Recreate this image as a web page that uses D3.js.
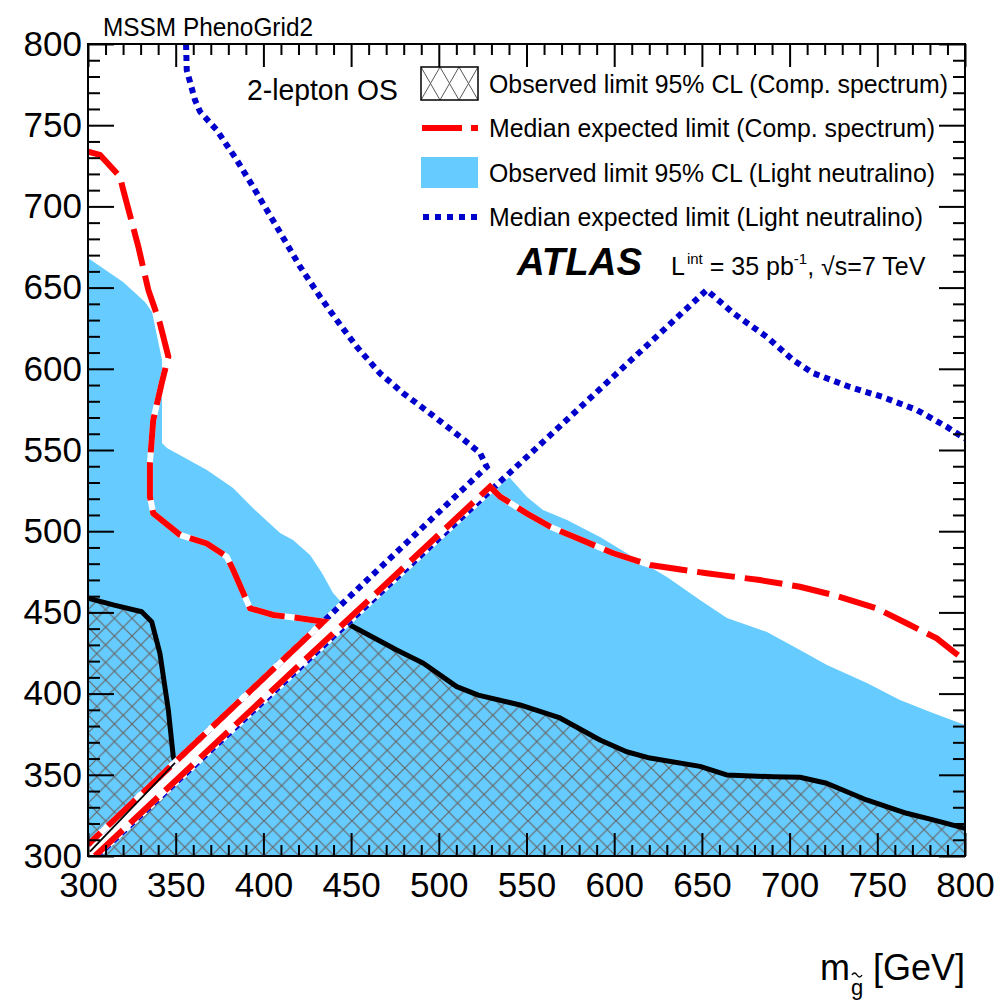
<!DOCTYPE html>
<html>
<head>
<meta charset="utf-8">
<script src="https://cdn.jsdelivr.net/npm/d3@7"></script>
<style>
  body { margin: 0; background: #fff; }
  svg { display: block; }
  text { font-family: "Liberation Sans", Arial, Helvetica, sans-serif; fill: #000; }
</style>
</head>
<body>
<script>
// ---- axis ranges and tick labels (GeV) ----
const xDomain = [300, 800];
const yDomain = [300, 800];
const xMajorTicks = [300, 350, 400, 450, 500, 550, 600, 650, 700, 750, 800];
const yMajorTicks = [300, 350, 400, 450, 500, 550, 600, 650, 700, 750, 800];

// ---- kinematic diagonal edges (m_gluino, m) ----
const upperDiagonal = [[300, 307], [444.8, 455.1]];
const lowerDiagonal = [[304, 300], [536.8, 534.6]];

// ---- observed 95% CL, light neutralino (filled) ----
const lnObservedLeft = [
  [300, 668.2], [320, 653.4], [332.5, 641.1], [336.5, 635], [342.2, 605.4],
  [342.2, 554.3], [345, 551.2], [367.8, 537.7], [382.7, 526.6], [395.2, 513],
  [409.5, 498.9], [416.9, 494.6], [426.6, 485.3], [433.4, 474.3], [439.7, 462],
  [444.8, 455.8]
];
const lnObservedRight = [
  [536.8, 534.6], [540.6, 532.8], [550.3, 521.1], [559.4, 513.1], [573.1, 506.9],
  [591.9, 496.4], [610.7, 484.1], [630.1, 471.8], [648.9, 457.6], [664.3, 446.6],
  [687.1, 437.9], [705.9, 426.8], [721.3, 417.6], [744.1, 406.5], [762.9, 396.1],
  [781.7, 388.1], [800, 380.7]
];

// ---- observed 95% CL, compressed spectrum (hatched, black line) ----
const compObservedLeft = [
  [300, 458.7], [314.4, 454.6], [330.6, 450.4], [336.3, 444.3], [341, 424.8],
  [345.8, 389.9], [348.6, 361.2], [349.6, 357.7], [300, 307]
];
const compObservedDiag = [[349.6, 357.4], [301.1, 302.7]];
const compObservedRight = [
  [447, 444.1], [449.4, 442.2], [476, 426.8], [491.2, 418.7], [510.2, 404.3],
  [522.5, 399.1], [546.3, 393], [569.1, 385], [591.9, 371.4], [607.1, 364.2],
  [620.4, 360.3], [648.9, 355.2], [664.1, 349.9], [690.7, 348.8], [705.9, 348.5],
  [721.1, 344.8], [743.9, 334.5], [766.7, 326.3], [781.9, 322.2], [800, 317.1]
];

// ---- median expected, compressed spectrum (red dashed) ----
const compExpectedA = [
  [300, 733.7], [306.8, 731.7], [318.2, 718.3], [320.1, 710.1], [328.7, 675.2],
  [334.4, 648.5], [341, 628], [345.8, 607.5], [342, 591.1], [337.2, 568.5],
  [335.3, 541.8], [335.3, 521.3], [337.2, 511], [352.5, 497.7], [367.7, 492.5],
  [379.1, 484.3], [382.8, 476.1], [392.4, 452.5], [405.7, 448.4], [420.9, 446.4],
  [434.2, 444.3], [300, 307]
];
const compExpectedB = [
  [304, 300], [529.2, 527.4], [534.9, 521.3], [550.1, 511], [563.4, 502.8],
  [576.7, 496.7], [599.5, 486.4], [620.5, 479.2], [652.7, 474.1], [683.1, 469.9],
  [705.9, 465.8], [724.9, 460.7], [749.6, 452.5], [766.7, 443.3], [783.9, 434],
  [793.4, 425.8], [800, 420.7]
];

// ---- median expected, light neutralino (blue dotted) ----
const lnExpectedA = [
  [355.9, 800], [356.3, 783.9], [361, 765.5], [363.9, 758.3], [373.4, 747],
  [384.8, 728.6], [394.1, 712.1], [407.6, 687.5], [420.9, 662.9], [432.3, 644.4],
  [441.8, 630], [453.2, 613.6], [466.5, 597.2], [479.8, 584.9], [495, 572.6],
  [512.1, 558.2], [523.5, 548.2], [527.3, 539.7], [300, 307]
];
const lnExpectedB = [
  [305, 300], [652.7, 648.5], [667.7, 634.4], [687.1, 619.6], [702, 605.4],
  [713.3, 597.4], [734.4, 588.8], [753.2, 582.6], [772.6, 574.6], [789.7, 564.2],
  [800, 557]
];

// ---- legend entries ----
const legendLabels = [
  "Observed limit 95% CL (Comp. spectrum)",
  "Median expected limit (Comp. spectrum)",
  "Observed limit 95% CL (Light neutralino)",
  "Median expected limit (Light neutralino)"
];

const W = 1006, H = 1001;
const frame = { left: 88, right: 965, top: 44, bottom: 856 };
const lightBlue = "#66ccff", red = "#ff0000", darkBlue = "#0000cc";

const x = d3.scaleLinear().domain(xDomain).range([frame.left, frame.right]);
const y = d3.scaleLinear().domain(yDomain).range([frame.bottom, frame.top]);

const svg = d3.select("body").append("svg").attr("width", W).attr("height", H);
const defs = svg.append("defs");

defs.append("clipPath").attr("id", "plotClip")
  .append("rect")
  .attr("x", frame.left).attr("y", frame.top)
  .attr("width", frame.right - frame.left).attr("height", frame.bottom - frame.top);

// cross-hatch used in the plot area
const hatch = defs.append("pattern").attr("id", "hatch")
  .attr("patternUnits", "userSpaceOnUse")
  .attr("x", frame.left).attr("y", frame.bottom)
  .attr("width", 17.6).attr("height", 17.6);
hatch.append("path").attr("d", "M0,0L17.6,17.6M17.6,0L0,17.6M-1,16.6L1,18.6M16.6,-1L18.6,1")
  .attr("stroke", "#666").attr("stroke-width", 1.2).attr("fill", "none");

// cross-hatch used in the legend box
const hatchLeg = defs.append("pattern").attr("id", "hatchLeg")
  .attr("patternUnits", "userSpaceOnUse")
  .attr("x", 421).attr("y", 67)
  .attr("width", 19).attr("height", 33);
hatchLeg.append("path").attr("d", "M0,0L19,33M19,0L0,33")
  .attr("stroke", "#555").attr("stroke-width", 1).attr("fill", "none");

const line = d3.line().x(d => x(d[0])).y(d => y(d[1]));
const plot = svg.append("g").attr("clip-path", "url(#plotClip)");

// filled light-neutralino observed region, split by the diagonal
const blueLeftPoly = [upperDiagonal[0], ...lnObservedLeft];
const blueRightPoly = [lowerDiagonal[0], ...lnObservedRight, [xDomain[1], yDomain[0]]];
[blueLeftPoly, blueRightPoly].forEach(p => {
  plot.append("path").attr("d", line(p) + "Z").attr("fill", lightBlue).attr("stroke", "none");
});

// hatched compressed-spectrum observed region
const hatchLeftPoly = compObservedLeft;
const hatchRightPoly = [lowerDiagonal[0], ...compObservedRight, [xDomain[1], yDomain[0]]];
[hatchLeftPoly, hatchRightPoly].forEach(p => {
  plot.append("path").attr("d", line(p) + "Z").attr("fill", "url(#hatch)").attr("stroke", "none");
});

// observed contour lines (black)
plot.append("path").attr("d", line(compObservedLeft.slice(0, 8)))
  .attr("fill", "none").attr("stroke", "#000").attr("stroke-width", 5).attr("stroke-linejoin", "round");
plot.append("path").attr("d", line(compObservedRight))
  .attr("fill", "none").attr("stroke", "#000").attr("stroke-width", 5).attr("stroke-linejoin", "round");

// expected contours: white backing, then the styled line
function styledLine(data, color, dash) {
  plot.append("path").attr("d", line(data))
    .attr("fill", "none").attr("stroke", "#fff").attr("stroke-width", 6);
  plot.append("path").attr("d", line(data))
    .attr("fill", "none").attr("stroke", color).attr("stroke-width", 6)
    .attr("stroke-dasharray", dash).attr("stroke-linejoin", "miter");
}
styledLine(lnExpectedA, darkBlue, "6,5");
styledLine(lnExpectedB, darkBlue, "6,5");
styledLine(compExpectedA, red, "38,10");
styledLine(compExpectedB, red, "38,10");

// thin observed segment running along the diagonal
plot.append("path").attr("d", line(compObservedDiag))
  .attr("fill", "none").attr("stroke", "#000").attr("stroke-width", 1.8);

// ---- axes: ticks on all four sides pointing inwards ----
const minorX = d3.range(xDomain[0], xDomain[1] + 1, 10).filter(v => v % 50 !== 0);
const minorY = d3.range(yDomain[0], yDomain[1] + 1, 10).filter(v => v % 50 !== 0);

function styleAxis(g) {
  g.select(".domain").remove();
  g.selectAll(".tick line").attr("stroke", "#000").attr("stroke-width", 2);
}

svg.append("g").attr("transform", `translate(0,${frame.bottom})`)
  .call(d3.axisBottom(x).tickValues(xMajorTicks).tickSizeInner(-23).tickSizeOuter(0)
    .tickPadding(16).tickFormat(d3.format("d")))
  .call(styleAxis)
  .call(g => g.selectAll(".tick text").attr("font-size", 35).attr("fill", "#000")
    .attr("font-family", "Liberation Sans, Arial, sans-serif"));
svg.append("g").attr("transform", `translate(0,${frame.bottom})`)
  .call(d3.axisBottom(x).tickValues(minorX).tickSizeInner(-11).tickSizeOuter(0).tickFormat(""))
  .call(styleAxis);
svg.append("g").attr("transform", `translate(0,${frame.top})`)
  .call(d3.axisTop(x).tickValues(xMajorTicks).tickSizeInner(-23).tickSizeOuter(0).tickFormat(""))
  .call(styleAxis);
svg.append("g").attr("transform", `translate(0,${frame.top})`)
  .call(d3.axisTop(x).tickValues(minorX).tickSizeInner(-11).tickSizeOuter(0).tickFormat(""))
  .call(styleAxis);

svg.append("g").attr("transform", `translate(${frame.left},0)`)
  .call(d3.axisLeft(y).tickValues(yMajorTicks).tickSizeInner(-26).tickSizeOuter(0)
    .tickPadding(6).tickFormat(d3.format("d")))
  .call(styleAxis)
  .call(g => g.selectAll(".tick text").attr("font-size", 35).attr("fill", "#000")
    .attr("font-family", "Liberation Sans, Arial, sans-serif"));
svg.append("g").attr("transform", `translate(${frame.left},0)`)
  .call(d3.axisLeft(y).tickValues(minorY).tickSizeInner(-12).tickSizeOuter(0).tickFormat(""))
  .call(styleAxis);
svg.append("g").attr("transform", `translate(${frame.right},0)`)
  .call(d3.axisRight(y).tickValues(yMajorTicks).tickSizeInner(-26).tickSizeOuter(0).tickFormat(""))
  .call(styleAxis);
svg.append("g").attr("transform", `translate(${frame.right},0)`)
  .call(d3.axisRight(y).tickValues(minorY).tickSizeInner(-12).tickSizeOuter(0).tickFormat(""))
  .call(styleAxis);

// frame
svg.append("rect")
  .attr("x", frame.left).attr("y", frame.top)
  .attr("width", frame.right - frame.left).attr("height", frame.bottom - frame.top)
  .attr("fill", "none").attr("stroke", "#000").attr("stroke-width", 2);

// ---- titles and annotations ----
svg.append("text").attr("x", 103).attr("y", 36).attr("font-size", 25)
  .attr("textLength", 210).attr("lengthAdjust", "spacingAndGlyphs")
  .text("MSSM PhenoGrid2");

svg.append("text").attr("x", 247).attr("y", 100).attr("font-size", 29)
  .attr("textLength", 151).attr("lengthAdjust", "spacingAndGlyphs")
  .text("2-lepton OS");

// x-axis title: m with a g-tilde subscript
const xt = svg.append("g");
xt.append("text").attr("x", 820).attr("y", 980).attr("font-size", 36).text("m");
xt.append("text").attr("x", 851).attr("y", 995).attr("font-size", 22).text("g");
xt.append("path").attr("d", "M852,975 q2.5,-4 5,0 t5,0")
  .attr("fill", "none").attr("stroke", "#000").attr("stroke-width", 1.4);
xt.append("text").attr("x", 965).attr("y", 980).attr("font-size", 36)
  .attr("text-anchor", "end").text("[GeV]");

// ---- legend ----
const legX = 421, legW = 57;
const legRowY = [83.5, 128, 172.5, 217];
svg.append("rect").attr("x", legX).attr("y", legRowY[0] - 16.5).attr("width", legW).attr("height", 33)
  .attr("fill", "#fff");
svg.append("rect").attr("x", legX).attr("y", legRowY[0] - 16.5).attr("width", legW).attr("height", 33)
  .attr("fill", "url(#hatchLeg)").attr("stroke", "#000").attr("stroke-width", 1.5);
svg.append("line").attr("x1", legX + 1).attr("x2", legX + legW).attr("y1", legRowY[1]).attr("y2", legRowY[1])
  .attr("stroke", red).attr("stroke-width", 6).attr("stroke-dasharray", "40,9");
svg.append("rect").attr("x", legX).attr("y", legRowY[2] - 15.5).attr("width", legW).attr("height", 31)
  .attr("fill", lightBlue);
svg.append("line").attr("x1", legX + 2).attr("x2", legX + legW).attr("y1", legRowY[3]).attr("y2", legRowY[3])
  .attr("stroke", darkBlue).attr("stroke-width", 6).attr("stroke-dasharray", "6,6");

const legWidths = [459, 446, 446, 434];
legendLabels.forEach((t, i) => {
  svg.append("text").attr("x", 489).attr("y", legRowY[i] + 9).attr("font-size", 26)
    .attr("textLength", legWidths[i]).attr("lengthAdjust", "spacingAndGlyphs")
    .text(t);
});

// ---- experiment label ----
svg.append("text").attr("x", 517).attr("y", 275).attr("font-size", 39)
  .attr("font-weight", "bold").attr("font-style", "italic")
  .attr("textLength", 125).attr("lengthAdjust", "spacingAndGlyphs")
  .text("ATLAS");

const lum = svg.append("text").attr("x", 671).attr("y", 275).attr("font-size", 25);
lum.append("tspan").text("L");
lum.append("tspan").attr("font-size", 15).attr("dy", -11).attr("dx", 2).text("int");
lum.append("tspan").attr("dy", 11).text(" = 35 pb");
lum.append("tspan").attr("font-size", 15).attr("dy", -11).text("-1");
lum.append("tspan").attr("dy", 11).text(", ");
lum.append("tspan").text("\u221As=7 TeV");
</script>
</body>
</html>
